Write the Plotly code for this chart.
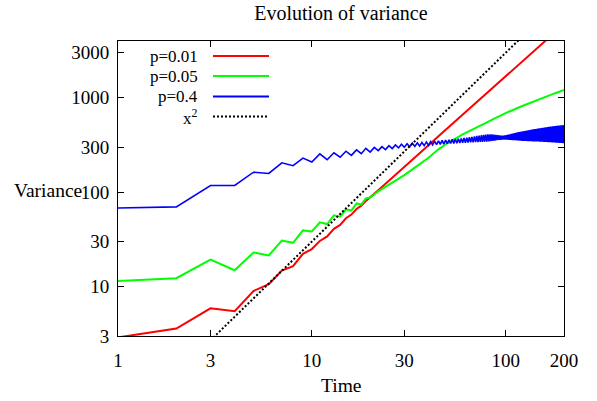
import plotly.graph_objects as go

# time steps and variances
time = list(range(1, 201))

red_t = [1, 2, 3, 4, 5, 6, 7, 8, 9, 10, 11, 12, 13, 14, 15, 16, 17, 18, 19, 20,
         22, 24, 26, 28, 30, 35, 40, 45, 50, 60, 70, 80, 90, 100, 120, 140, 160, 180, 200]
red_v = [2.9, 3.6, 5.9, 5.5, 9.0, 10.6, 14.8, 16.5, 22.3, 25.0, 30.5, 34.0, 41.0, 45.0, 53.0, 58.0, 66.5, 72.0, 81.0, 88.0,
         105, 123, 143, 164, 186, 247, 315, 391, 474, 662, 879, 1123, 1393, 1690, 2360, 3130, 4000, 4960, 6020]

green_t = [1, 2, 3, 4, 5, 6, 7, 8, 9, 10, 11, 12, 13, 14, 15, 16, 17, 18, 19, 20,
           22, 24, 26, 28, 30, 35, 40, 45, 50, 60, 70, 80, 90, 100, 120, 140, 160, 180, 200]
green_v = [11.5, 12.3, 19.3, 14.9, 23.0, 21.4, 30.8, 29.1, 39.4, 38.5, 48, 46, 57, 55, 66, 64, 76, 74, 86, 88,
           102, 114, 126, 138, 152, 190, 232, 285, 330, 410, 485, 550, 620, 690, 810, 920, 1020, 1120, 1210]

blue_v = [68, 70, 118, 118, 163, 158, 205, 191, 230, 209,
          255, 221, 262, 235, 272, 246, 281, 256, 292, 266,
          298, 276, 304, 283, 311, 290, 317, 295, 323, 300,
          327, 303, 331, 306, 334, 309, 337, 312, 341, 314,
          344, 318, 348, 320, 351, 322, 354, 324, 357, 326,
          360, 328, 363, 329, 366, 331, 369, 332, 372, 334,
          375, 335, 378, 336, 382, 337, 386, 338, 390, 339,
          394, 340, 398, 341, 402, 342, 405, 343, 408, 344,
          410, 346, 411, 348, 410, 350, 408, 353, 405, 356,
          402, 358, 399, 360, 397, 361, 398, 362, 400, 361,
          403, 360, 407, 359, 411, 358, 415, 357, 419, 356,
          423, 355, 427, 354, 430, 353, 433, 352, 436, 351,
          439, 350, 442, 350, 445, 349, 448, 349, 451, 348,
          454, 348, 456, 347, 459, 347, 461, 346, 464, 346,
          466, 345, 468, 345, 471, 344, 473, 344, 475, 343,
          477, 343, 479, 342, 481, 342, 483, 341, 485, 341,
          487, 340, 489, 340, 491, 339, 493, 339, 494, 338,
          496, 338, 498, 337, 499, 337, 501, 336, 502, 336,
          504, 335, 505, 335, 506, 334, 508, 334, 509, 333,
          510, 333, 511, 332, 512, 332, 513, 331, 514, 331]

# x^2 reference line (as drawn, two end points)
sq_t = [3.0, 120]
sq_v = [2.7, 4320]

x_ticks = [1, 3, 10, 30, 100, 200]
y_ticks = [3, 10, 30, 100, 300, 1000, 3000]

names = ["p=0.01", "p=0.05", "p=0.4", "x<sup>2</sup>"]
colors = ["#ff0000", "#00ff00", "#0000ff", "#000000"]

FONT = "Liberation Serif"
txt = dict(family=FONT, size=19.5, color="black")
tick_font = dict(family=FONT, size=19, color="black")
leg_font = dict(family=FONT, size=17, color="black")

fig = go.Figure()
fig.add_trace(go.Scatter(x=red_t, y=red_v, mode="lines", line=dict(color=colors[0], width=2)))
fig.add_trace(go.Scatter(x=green_t, y=green_v, mode="lines", line=dict(color=colors[1], width=2)))
fig.add_trace(go.Scatter(x=time, y=blue_v, mode="lines", line=dict(color=colors[2], width=1.6)))
fig.add_trace(go.Scatter(x=sq_t, y=sq_v, mode="lines", line=dict(color=colors[3], width=2, dash="2px,2px")))

# hand-made legend: text on the left, sample line on the right
rows = [0.949, 0.881, 0.812, 0.744]
for i in range(4):
    fig.add_annotation(x=0.184, y=rows[i], xref="paper", yref="paper", text=names[i],
                       showarrow=False, xanchor="right", yanchor="middle", font=leg_font)
    fig.add_shape(type="line", xref="paper", yref="paper", x0=0.213, x1=0.3386, y0=rows[i], y1=rows[i],
                  line=dict(color=colors[i], width=2, dash="2px,2px" if i == 3 else "solid"))

fig.add_annotation(x=-0.158, y=0.494, xref="paper", yref="paper", text="Variance", showarrow=False,
                   xanchor="center", yanchor="middle", font=txt)
fig.add_annotation(x=0.5, y=-0.167, xref="paper", yref="paper", text="Time", showarrow=False,
                   xanchor="center", yanchor="middle", font=txt)

fig.update_layout(
    width=597, height=401,
    margin=dict(l=118, r=33, t=41, b=65),
    paper_bgcolor="white", plot_bgcolor="white",
    showlegend=False,
    font=txt,
    title=dict(text="Evolution of variance", x=0.571, xanchor="center", y=0.968, yanchor="middle",
               font=dict(family=FONT, size=20, color="black")),
)
fig.update_xaxes(type="log", range=[0, 2.30103], tickvals=x_ticks, ticktext=[str(v) for v in x_ticks],
                 ticks="inside", ticklen=6, tickcolor="black", showline=True, linecolor="black", linewidth=1,
                 mirror="allticks", showgrid=False, zeroline=False, ticklabelstandoff=7, tickfont=tick_font)
fig.update_yaxes(type="log", range=[0.4771, 3.60206], tickvals=y_ticks, ticktext=[str(v) for v in y_ticks],
                 ticks="inside", ticklen=6, tickcolor="black", showline=True, linecolor="black", linewidth=1,
                 mirror="allticks", showgrid=False, zeroline=False, ticklabelstandoff=4, tickfont=tick_font)

fig.write_html("out.html", config={"displayModeBar": False},
               post_script="document.body.style.margin='0';")
